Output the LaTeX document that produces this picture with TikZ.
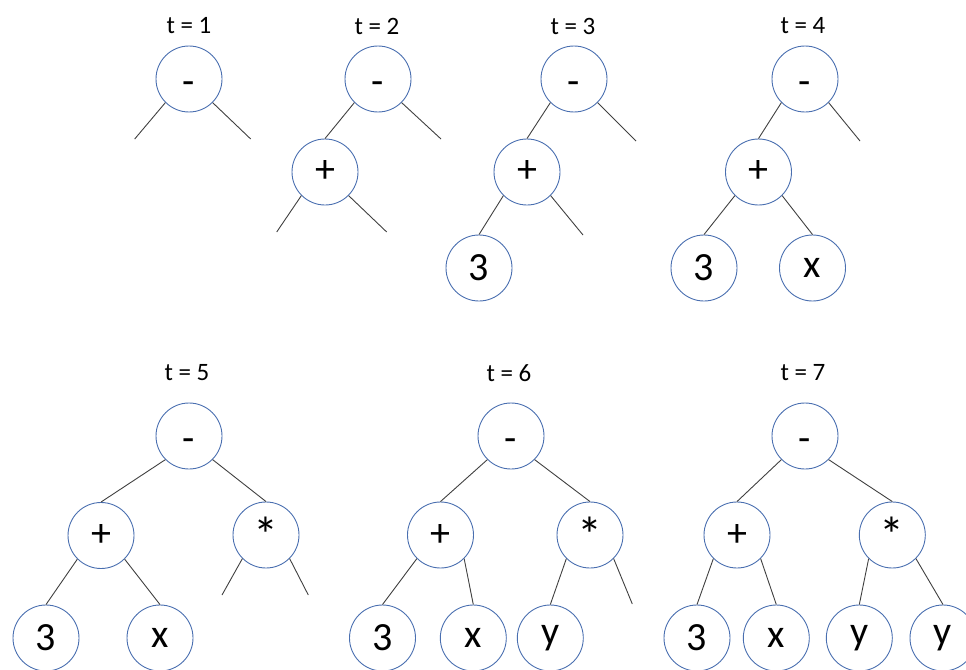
\documentclass[tikz,border=0pt]{standalone}
\usepackage{fontspec}
\setmainfont{Carlito}
\definecolor{nodeblue}{HTML}{4A6FB0}
\definecolor{edgegray}{HTML}{404040}
\newcommand{\mydash}{\raisebox{-15pt}[0pt][0pt]{-}}
\begin{document}
\begin{tikzpicture}[x=1pt,y=-1pt,
  tn/.style={circle,draw=nodeblue,line width=0.9pt,minimum size=66pt,inner sep=0pt,font=\fontsize{40}{44}\selectfont},
  star/.style={font=\fontsize{50}{54}\selectfont,text depth=-6pt},
  lbl/.style={font=\fontsize{25}{28}\selectfont,inner sep=0pt},
  ed/.style={draw=edgegray,line width=0.9pt}]
\useasboundingbox (0,0) rectangle (966,669);
% t = 1
\node[lbl] (l1) at (189,26) {t = 1};
\node[tn] (a1) at (189,79) {\mydash};
\coordinate (a1l) at (134.7,139);
\coordinate (a1r) at (250.7,139);
\draw[ed] (a1.south west) -- (a1l);
\draw[ed] (a1.south east) -- (a1r);
% t = 2
\node[lbl] (l2) at (377,26) {t = 2};
\node[tn] (a2) at (378,79) {\mydash};
\node[tn] (b2) at (325,172) {+};
\coordinate (a2r) at (441,139);
\coordinate (b2l) at (276.7,232);
\coordinate (b2r) at (386.7,232);
\draw[ed] (a2.south west) -- (b2.north);
\draw[ed] (a2.south east) -- (a2r);
\draw[ed] (b2.south west) -- (b2l);
\draw[ed] (b2.south east) -- (b2r);
% t = 3
\node[lbl] (l3) at (573,26) {t = 3};
\node[tn] (a3) at (574,79) {\mydash};
\node[tn] (b3) at (527,172) {+};
\node[tn] (c3) at (479,268) {3};
\coordinate (a3r) at (636,141);
\coordinate (b3r) at (583,235);
\draw[ed] (a3.south west) -- (b3.north);
\draw[ed] (a3.south east) -- (a3r);
\draw[ed] (b3.south west) -- (c3.north);
\draw[ed] (b3.south east) -- (b3r);
% t = 4
\node[lbl] (l4) at (803,26) {t = 4};
\node[tn] (a4) at (805,79) {\mydash};
\node[tn] (b4) at (758.5,172) {+};
\node[tn] (c4) at (704,268) {3};
\node[tn] (d4) at (812.5,268) {x};
\coordinate (a4r) at (860,141);
\draw[ed] (a4.south west) -- (b4.north);
\draw[ed] (a4.south east) -- (a4r);
\draw[ed] (b4.south west) -- (c4.north);
\draw[ed] (b4.south east) -- (d4.north);
% t = 5
\node[lbl] (l5) at (187,373) {t = 5};
\node[tn] (a5) at (189,436) {\mydash};
\node[tn] (b5) at (101,535.5) {+};
\node[tn,star] (e5) at (266,535) {*};
\node[tn] (c5) at (46,638) {3};
\node[tn] (d5) at (160,638) {x};
\coordinate (e5l) at (222,595);
\coordinate (e5r) at (308.3,595);
\draw[ed] (a5.south west) -- (b5.north);
\draw[ed] (a5.south east) -- (e5.north);
\draw[ed] (b5.south west) -- (c5.north);
\draw[ed] (b5.south east) -- (d5.north);
\draw[ed] (e5.south west) -- (e5l);
\draw[ed] (e5.south east) -- (e5r);
% t = 6
\node[lbl] (l6) at (509,373) {t = 6};
\node[tn] (a6) at (511,436) {\mydash};
\node[tn] (b6) at (440.5,535) {+};
\node[tn,star] (e6) at (590,535) {*};
\node[tn] (c6) at (382.5,638) {3};
\node[tn] (d6) at (473.3,638) {x};
\node[tn] (f6) at (550.3,638) {y};
\coordinate (e6r) at (632.3,604);
\draw[ed] (a6.south west) -- (b6.north);
\draw[ed] (a6.south east) -- (e6.north);
\draw[ed] (b6.south west) -- (c6.north);
\draw[ed] (b6.south east) -- (d6.north);
\draw[ed] (e6.south west) -- (f6.north);
\draw[ed] (e6.south east) -- (e6r);
% t = 7
\node[lbl] (l7) at (803,373) {t = 7};
\node[tn] (a7) at (805,436) {\mydash};
\node[tn] (b7) at (737,535) {+};
\node[tn,star] (e7) at (892.3,535) {*};
\node[tn] (c7) at (697,638) {3};
\node[tn] (d7) at (776.3,638) {x};
\node[tn] (f7) at (859.3,638) {y};
\node[tn] (g7) at (943,638) {y};
\draw[ed] (a7.south west) -- (b7.north);
\draw[ed] (a7.south east) -- (e7.north);
\draw[ed] (b7.south west) -- (c7.north);
\draw[ed] (b7.south east) -- (d7.north);
\draw[ed] (e7.south west) -- (f7.north);
\draw[ed] (e7.south east) -- (g7.north);
\end{tikzpicture}
\end{document}
